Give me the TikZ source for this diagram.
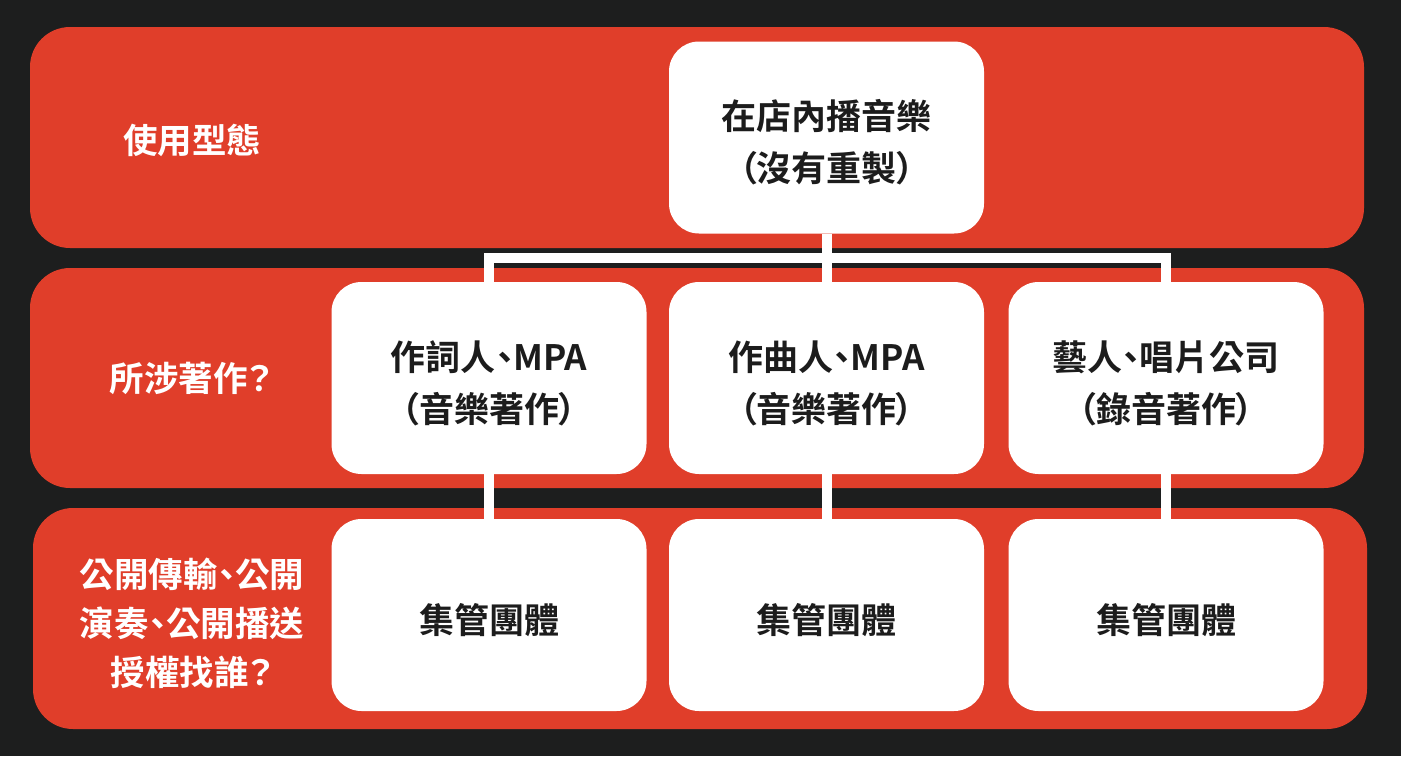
\documentclass[tikz,border=0pt]{standalone}
\usepackage{fontspec}
\setmainfont{Noto Sans CJK TC}[BoldFont=* Bold, RawFeature=+palt]
\usepackage{tikz}

\definecolor{bgdark}{HTML}{1D1E1E}
\definecolor{bandred}{HTML}{E03E2A}
\definecolor{inkdark}{HTML}{1C1C1C}

\begin{document}
\begin{tikzpicture}[x=1pt, y=-1pt,
    band/.style={fill=bandred, rounded corners=40pt},
    rowlabel/.style={text=white, font=\bfseries\fontsize{34.5}{49}\selectfont, align=center},
    card/.style={fill=white, rounded corners=30pt, minimum width=315pt, minimum height=192pt, align=center, text=inkdark, font=\bfseries\fontsize{35}{52}\selectfont, text height=41pt},
    twoline/.style={card, text height=92pt},
    link/.style={draw=white, line width=10pt, line join=miter}]
    \useasboundingbox (0,0) rectangle (1401,756);
    \fill [bgdark] (0,0) rectangle (1401,756);
    % three bands
    \fill [band] (30,27) rectangle (1364,248);
    \fill [band] (30,268) rectangle (1364,488);
    \fill [band] (33,508) rectangle (1367,729);
    % labels on the left
    \node at (192,140) [rowlabel] (usage label) {使用型態};
    \node at (191,378) [rowlabel] (work label) {所涉著作？};
    \node at (192,623) [rowlabel] (licence label) {公開傳輸、公開\\演奏、公開播送\\授權找誰？};
    % top box
    \node at (826.5,137.5) [twoline] (use) {在店內播音樂\\（沒有重製）};
    % works
    \node at (489,378) [twoline] (lyrics) {作詞人、MPA\\（音樂著作）};
    \node at (826.5,378) [twoline] (music) {作曲人、MPA\\（音樂著作）};
    \node at (1166,378) [twoline] (recording) {藝人、唱片公司\\（錄音著作）};
    % collecting societies
    \node at (489,615) [card] (lyrics cmo) {集管團體};
    \node at (826.5,615) [card] (music cmo) {集管團體};
    \node at (1166,615) [card] (recording cmo) {集管團體};
    % connectors
    \coordinate (bus) at (826.5,257.5);
    \draw [link] (use.south) -- (music.north);
    \draw [link] (lyrics.north) |- (bus) -| (recording.north);
    \draw [link] (lyrics.south) -- (lyrics cmo.north);
    \draw [link] (music.south) -- (music cmo.north);
    \draw [link] (recording.south) -- (recording cmo.north);
\end{tikzpicture}
\end{document}
